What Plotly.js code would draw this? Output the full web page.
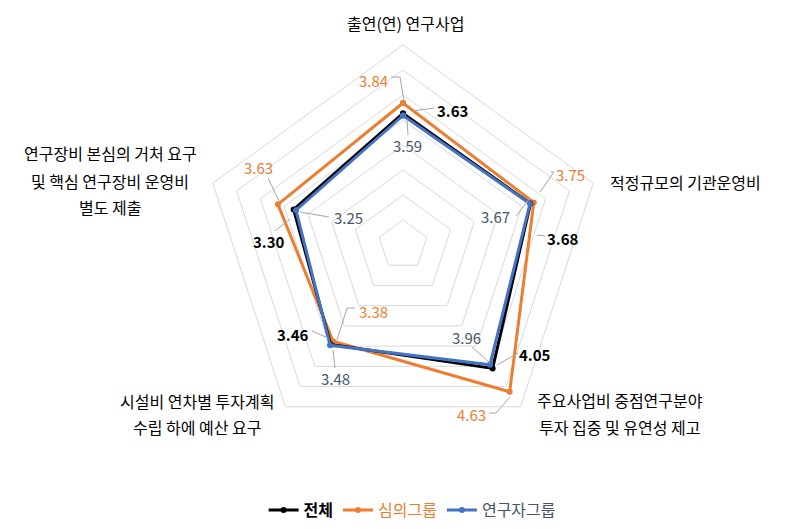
<!DOCTYPE html>
<html><head><meta charset="utf-8">
<script src="https://cdn.plot.ly/plotly-3.0.1.min.js"></script>
<style>body{margin:0;background:#fff}#chart{width:808px;height:529px}</style>
</head><body><div id="chart"></div>
<script>
const categories = ['출연(연) 연구사업','적정규모의 기관운영비','주요사업비 중점연구분야 투자 집중 및 유연성 제고','시설비 연차별 투자계획 수립 하에 예산 요구','연구장비 본심의 거처 요구 및 핵심 연구장비 운영비 별도 제출'];
const seriesNames = ['전체','심의그룹','연구자그룹'];
const totalVals = [3.63, 3.68, 4.05, 3.46, 3.30];
const reviewVals = [3.84, 3.75, 4.63, 3.38, 3.63];
const researcherVals = [3.59, 3.67, 3.96, 3.48, 3.25];

const W = 808, H = 529;
const px = x => x / W, py = y => 1 - y / H;
const FONT = '"Noto Sans CJK KR", "Noto Sans", sans-serif';
const colors = ['#000000', '#ED7D31', '#4472C4'];
const labelColors = ['#000000', '#ED7D31', '#44546A'];

function closed(a){ return a.concat([a[0]]); }
const allVals = [totalVals, reviewVals, researcherVals];
const order = [1, 0, 2];
const traces = order.map(i => ({
  type: 'scatterpolar',
  r: closed(allVals[i]),
  theta: closed(categories),
  mode: 'lines+markers',
  name: '<span style="color:' + labelColors[i] + '">' + (i === 0 ? '<b>' + seriesNames[i] + '</b>' : seriesNames[i]) + '</span>',
  line: {color: colors[i], width: 3},
  marker: {color: colors[i], size: 6},
  legendrank: i + 1,
  hoverinfo: 'skip'
}));

// Data labels: [series index, value index, x, y, leader line points]
const labelPos = [
  [1,0,373,80,[[391,77],[400,77],[404,101]]],
  [0,0,452,110,[[434,108],[413,111]]],
  [2,0,407,146,[[408,135],[407,119]]],
  [1,1,570,174,[[551,172],[554,172],[540,192]]],
  [2,1,495,217,[[516,216],[530,198]]],
  [0,1,563,238,[[545,236],[537,235]]],
  [1,4,258,168,[[268,178],[280,203]]],
  [2,4,348,218,[[329,217],[300,212]]],
  [0,4,269,241,[[275,231],[290,219]]],
  [1,3,373,311,[[355,308],[347,308],[337,340]]],
  [0,3,293,334,[[312,331],[328,338]]],
  [2,3,335,378,[[335,368],[333,350]]],
  [2,2,467,337,[[472,347],[490,363]]],
  [0,2,535,354,[[518,353],[497,365]]],
  [1,2,472,414,[[489,413],[496,413],[510,397]]]
];
const annotations = [];
const shapes = [];
labelPos.forEach(([s, k, x, y, pts]) => {
  annotations.push({
    xref: 'paper', yref: 'paper', x: px(x), y: py(y), xanchor: 'center', yanchor: 'middle',
    text: s === 0 ? '<b>' + allVals[s][k].toFixed(2) + '</b>' : allVals[s][k].toFixed(2),
    showarrow: false, font: {family: FONT, size: 15, color: labelColors[s]}
  });
  for (let j = 0; j < pts.length - 1; j++) {
    shapes.push({type: 'line', xref: 'paper', yref: 'paper',
      x0: px(pts[j][0]), y0: py(pts[j][1]), x1: px(pts[j+1][0]), y1: py(pts[j+1][1]),
      line: {color: '#a6a6a6', width: 1}});
  }
});
const catLines = [
  ['출연(연) 연구사업', 405, 23],
  ['적정규모의 기관운영비', 685, 182],
  ['주요사업비 중점연구분야', 620, 400],
  ['투자 집중 및 유연성 제고', 620, 427],
  ['시설비 연차별 투자계획', 197, 401],
  ['수립 하에 예산 요구', 197, 427],
  ['연구장비 본심의 거처 요구', 110, 153],
  ['및 핵심 연구장비 운영비', 110, 181],
  ['별도 제출', 110, 207]
];
catLines.forEach(([t, x, y]) => annotations.push({
  xref: 'paper', yref: 'paper', x: px(x), y: py(y), xanchor: 'center', yanchor: 'middle',
  text: t, showarrow: false, align: 'center',
  font: {family: FONT, size: 16, color: '#000'}
}));

const layout = {
  width: W, height: H,
  margin: {l: 0, r: 0, t: 0, b: 0},
  paper_bgcolor: '#fff',
  showlegend: true,
  legend: {orientation: 'h', x: 0.51, xanchor: 'center', y: py(510), yanchor: 'middle',
    font: {family: FONT, size: 16, color: '#000'}, itemwidth: 30, tracegroupgap: 0},
  polar: {
    domain: {x: [px(203), px(603)], y: [py(445), py(45)]},
    gridshape: 'linear',
    bgcolor: 'rgba(0,0,0,0)',
    radialaxis: {range: [1, 5], dtick: 0.5, tick0: 1, showticklabels: false, ticks: '',
      showline: false, gridcolor: '#d9d9d9', gridwidth: 1},
    angularaxis: {direction: 'clockwise', rotation: 90, showticklabels: false, ticks: '',
      showgrid: false, showline: true, linecolor: '#d9d9d9', linewidth: 1}
  },
  annotations: annotations,
  shapes: shapes
};
Plotly.newPlot('chart', traces, layout, {displayModeBar: false, staticPlot: true});
</script></body></html>
